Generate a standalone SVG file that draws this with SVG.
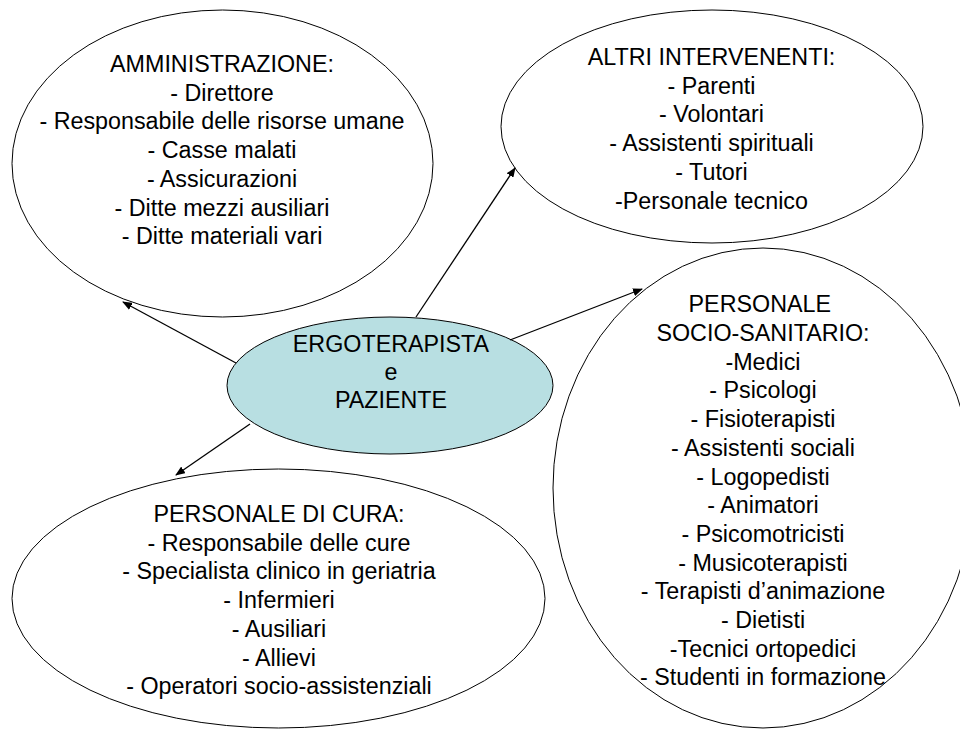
<svg xmlns="http://www.w3.org/2000/svg" width="960" height="731" viewBox="0 0 960 731">
<style>
.n{fill:#ffffff;stroke:#000000;stroke-width:1}
.c{fill:#b8dfe2;stroke:#000000;stroke-width:1}
text{font-family:"Liberation Sans",Arial,sans-serif;font-size:23.3px;fill:#000000;text-anchor:middle}
.e{stroke:#000000;stroke-width:1.3;fill:none;marker-end:url(#ah)}
</style>
<defs>
<marker id="ah" markerUnits="userSpaceOnUse" markerWidth="10" markerHeight="8" refX="9" refY="4" orient="auto">
<path d="M0,0 L10,4 L0,8 Z" fill="#000000"/>
</marker>
</defs>
<rect width="960" height="731" fill="#ffffff"/>
<g id="amministrazione">
<ellipse class="n" cx="222.5" cy="163.5" rx="210.5" ry="153.5"/>
<text x="222" y="72">AMMINISTRAZIONE:</text>
<text x="222" y="100.7">- Direttore</text>
<text x="222" y="129.4">- Responsabile delle risorse umane</text>
<text x="222" y="158.1">- Casse malati</text>
<text x="222" y="186.8">- Assicurazioni</text>
<text x="222" y="215.5">- Ditte mezzi ausiliari</text>
<text x="222" y="244.2">- Ditte materiali vari</text>
</g>
<g id="altri">
<ellipse class="n" cx="712" cy="126.5" rx="211" ry="116.5"/>
<text x="711.5" y="65">ALTRI INTERVENENTI:</text>
<text x="711.5" y="93.7">- Parenti</text>
<text x="711.5" y="122.4">- Volontari</text>
<text x="711.5" y="151.1">- Assistenti spirituali</text>
<text x="711.5" y="179.8">- Tutori</text>
<text x="711.5" y="208.5">-Personale tecnico</text>
</g>
<g id="sociosanitario">
<ellipse class="n" cx="763" cy="488" rx="210" ry="240"/>
<text x="759.8" y="312.3">PERSONALE</text>
<text x="763" y="341">SOCIO-SANITARIO:</text>
<text x="763" y="369.7">-Medici</text>
<text x="763" y="398.4">- Psicologi</text>
<text x="763" y="427.1">- Fisioterapisti</text>
<text x="763" y="455.8">- Assistenti sociali</text>
<text x="763" y="484.5">- Logopedisti</text>
<text x="763" y="513.2">- Animatori</text>
<text x="763" y="541.9">- Psicomotricisti</text>
<text x="763" y="570.6">- Musicoterapisti</text>
<text x="763" y="599.3">- Terapisti d’animazione</text>
<text x="763" y="628">- Dietisti</text>
<text x="763" y="656.7">-Tecnici ortopedici</text>
<text x="763" y="685.4">- Studenti in formazione</text>
</g>
<g id="cura">
<ellipse class="n" cx="278.5" cy="598.5" rx="266.5" ry="129.5"/>
<text x="279" y="522">PERSONALE DI CURA:</text>
<text x="279" y="550.7">- Responsabile delle cure</text>
<text x="279" y="579.4">- Specialista clinico in geriatria</text>
<text x="279" y="608.1">- Infermieri</text>
<text x="279" y="636.8">- Ausiliari</text>
<text x="279" y="665.5">- Allievi</text>
<text x="279" y="694.2">- Operatori socio-assistenziali</text>
</g>
<g id="centro">
<ellipse class="c" cx="390" cy="385.5" rx="163" ry="68.5"/>
<text x="391" y="352">ERGOTERAPISTA</text>
<text x="391" y="380">e</text>
<text x="391" y="408">PAZIENTE</text>
</g>
<g id="connectors">
<line class="e" x1="236" y1="363" x2="123" y2="302"/>
<line class="e" x1="416" y1="317" x2="515" y2="168"/>
<line class="e" x1="510" y1="340" x2="642" y2="289"/>
<line class="e" x1="250" y1="424" x2="176" y2="475"/>
</g>
</svg>
